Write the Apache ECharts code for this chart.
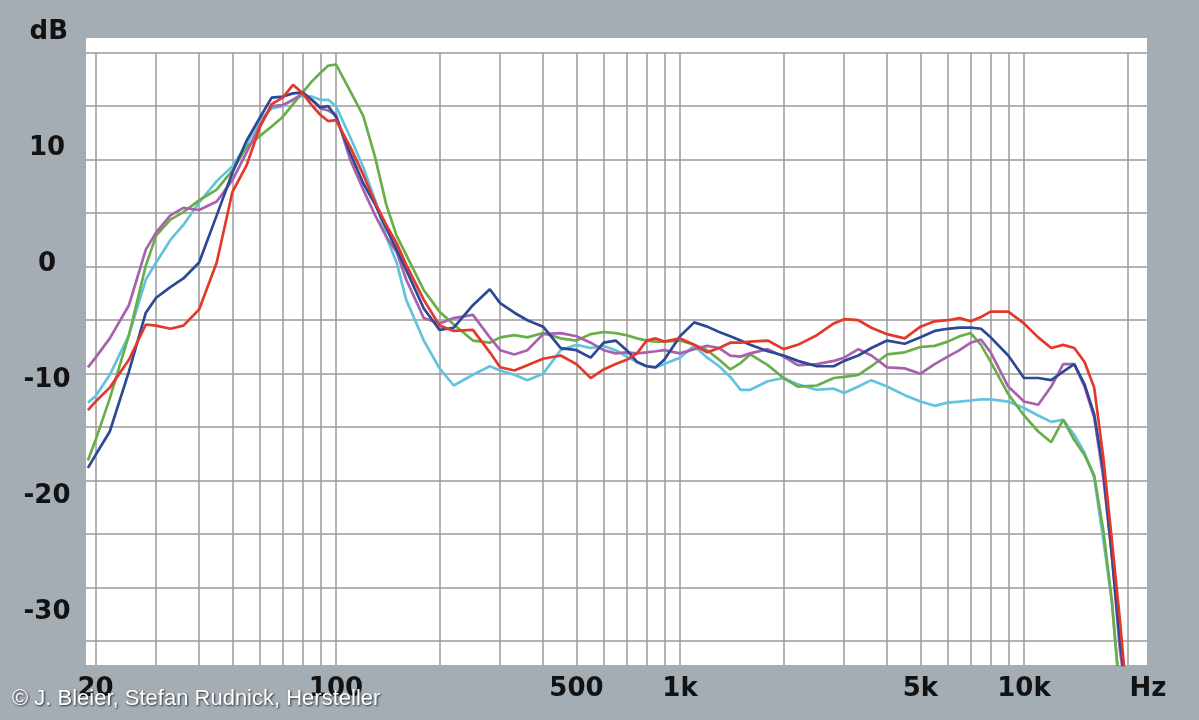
<!DOCTYPE html>
<html>
<head>
<meta charset="utf-8">
<script src="https://cdn.jsdelivr.net/npm/echarts@6/dist/echarts.min.js"></script>
<style>
  html, body { margin: 0; padding: 0; background: #a4acb4; }
  #chart { width: 1199px; height: 720px; }
</style>
</head>
<body>
<div id="chart"></div>
<script>
// Frequencies (Hz) at which the curves were read
const FREQ = [19,20,22,25,28,30,33,36,40,45,50,55,60,65,70,75,80,85,90,95,100,110,120,130,140,150,160,180,200,220,250,280,300,330,360,400,450,500,550,600,650,700,750,800,850,900,1000,1100,1200,1300,1400,1500,1600,1800,2000,2200,2500,2800,3000,3300,3600,4000,4500,5000,5500,6000,6500,7000,7500,8000,9000,10000,11000,12000,13000,14000,15000,16000,17000,18000,19000,20000];

// Levels (dB) per curve
const RED = [-13.4,-12.6,-11.3,-8.7,-5.4,-5.5,-5.8,-5.5,-4.0,0.4,7.0,9.5,13.0,15.2,15.8,17.0,16.2,15.1,14.2,13.6,13.7,11.2,8.6,6.0,3.9,2.2,0.2,-3.1,-5.5,-6.0,-5.9,-8.0,-9.4,-9.7,-9.2,-8.6,-8.3,-9.1,-10.4,-9.6,-9.1,-8.7,-8.1,-6.9,-6.7,-7.0,-6.7,-7.3,-8.0,-7.6,-7.1,-7.1,-7.0,-6.9,-7.7,-7.3,-6.4,-5.3,-4.9,-5.0,-5.7,-6.3,-6.7,-5.6,-5.1,-5.0,-4.8,-5.1,-4.7,-4.2,-4.2,-5.3,-6.6,-7.6,-7.3,-7.6,-8.9,-11.3,-17.8,-25.5,-33.0,-41];
const GREEN = [-18.1,-16.2,-12.3,-6.4,0.1,2.9,4.4,5.1,6.2,7.2,9.0,11.2,12.2,13.1,14.0,15.2,16.3,17.3,18.1,18.8,18.9,16.4,14.1,10.2,5.8,2.9,1.1,-2.2,-4.2,-5.4,-6.9,-7.1,-6.6,-6.4,-6.6,-6.2,-6.7,-6.9,-6.3,-6.1,-6.2,-6.4,-6.7,-6.9,-7.0,-7.0,-6.9,-7.3,-7.8,-8.7,-9.6,-9.0,-8.2,-9.2,-10.4,-11.2,-11.1,-10.4,-10.3,-10.1,-9.3,-8.2,-8.0,-7.5,-7.4,-7.0,-6.5,-6.2,-7.3,-8.9,-11.9,-13.9,-15.4,-16.4,-14.3,-16.2,-17.6,-19.5,-24.6,-31.2,-40,-45];
const BLUE = [-18.8,-17.6,-15.4,-9.8,-4.3,-2.9,-1.9,-1.1,0.4,4.8,8.8,11.8,13.9,15.8,15.9,16.2,16.3,15.6,14.9,15.0,14.0,10.6,7.8,5.8,3.6,1.6,-0.3,-3.9,-5.9,-5.7,-3.6,-2.1,-3.4,-4.3,-5.0,-5.6,-7.6,-7.8,-8.5,-7.1,-6.9,-7.8,-8.9,-9.3,-9.4,-8.7,-6.5,-5.2,-5.6,-6.1,-6.5,-6.9,-7.3,-7.9,-8.3,-8.8,-9.3,-9.3,-8.8,-8.3,-7.6,-6.9,-7.2,-6.6,-6.0,-5.8,-5.7,-5.7,-5.8,-6.6,-8.3,-10.4,-10.4,-10.6,-9.8,-9.1,-11.0,-13.8,-19.0,-26.9,-34.9,-41];
const CYAN = [-12.7,-12.1,-10.1,-6.4,-1.2,0.4,2.5,3.9,6.0,8.0,9.4,11.4,13.7,14.8,15.0,15.6,16.0,15.9,15.6,15.6,15.0,12.1,9.3,6.2,2.8,0.4,-3.1,-6.9,-9.5,-11.1,-10.1,-9.3,-9.7,-10.1,-10.6,-10.0,-7.8,-7.3,-7.6,-7.4,-7.8,-8.4,-8.9,-9.3,-9.4,-9.1,-8.5,-7.4,-8.5,-9.3,-10.3,-11.5,-11.5,-10.7,-10.4,-11.0,-11.5,-11.4,-11.8,-11.2,-10.6,-11.2,-12.0,-12.6,-13.0,-12.7,-12.6,-12.5,-12.4,-12.4,-12.6,-13.2,-13.9,-14.5,-14.3,-15.7,-17.4,-19.7,-25.5,-31.2,-40,-45];
const PURPLE = [-9.4,-8.5,-6.7,-3.6,1.6,3.2,4.8,5.5,5.3,6.1,8.1,10.7,13.2,15.0,15.1,15.6,16.2,15.6,14.8,14.6,14.2,10.0,7.2,4.8,2.8,1.4,-1.2,-4.8,-5.3,-4.8,-4.5,-6.6,-7.8,-8.2,-7.8,-6.3,-6.2,-6.5,-7.1,-7.8,-8.1,-8.0,-8.1,-8.0,-7.9,-7.8,-8.1,-7.7,-7.4,-7.6,-8.3,-8.4,-8.1,-7.7,-8.4,-9.2,-9.1,-8.8,-8.5,-7.7,-8.3,-9.4,-9.5,-10.0,-9.1,-8.4,-7.8,-7.1,-6.8,-8.0,-11.2,-12.6,-12.9,-11.2,-9.1,-9.1,-11.2,-14.1,-19.7,-26.9,-35.8,-41];

// Axis tick / label values
const X_GRID = [20,30,40,50,60,70,80,90,100,200,300,400,500,600,700,800,900,1000,2000,3000,4000,5000,6000,7000,8000,9000,10000,20000];
const X_LABELS = [20,100,500,1000,5000,10000];
const Y_GRID = [-35,-30,-25,-20,-15,-10,-5,0,5,10,15,20];
const Y_LABELS = [10,0,-10,-20,-30];

const SERIES = [
  { name: 'cyan',   values: CYAN,   color: '#62c3df' },
  { name: 'green',  values: GREEN,  color: '#6aae4a' },
  { name: 'purple', values: PURPLE, color: '#a862ad' },
  { name: 'blue',   values: BLUE,   color: '#2d4894' },
  { name: 'red',    values: RED,    color: '#e2392b' }
];

const chart = echarts.init(document.getElementById('chart'), null, { renderer: 'canvas' });
const labelFont = { fontFamily: '"DejaVu Sans", sans-serif', fontWeight: 'bold', fontSize: 26, color: '#121212' };
const gridColor = '#9a9a9a';

chart.setOption({
  animation: false,
  backgroundColor: '#a4acb4',
  grid: { left: 86, right: 52, top: 52.7, bottom: 55, show: true, backgroundColor: '#ffffff', borderWidth: 0 },
  graphic: [
    { type: 'rect', shape: { x: 86, y: 38, width: 1061, height: 15 }, style: { fill: '#ffffff' }, z: -1 },
    { type: 'text', left: 12, top: 688, z: 100,
      style: { text: '\u00a9 J. Bleier, Stefan Rudnick, Hersteller', fill: '#ffffff',
               font: '22px "Liberation Sans", Arial, sans-serif',
               textShadowColor: 'rgba(30,30,30,0.9)', textShadowBlur: 2, textShadowOffsetX: 1, textShadowOffsetY: 1 } }
  ],
  xAxis: {
    type: 'log', logBase: 10, min: 18.76, max: 22782,
    name: 'Hz', nameLocation: 'end', nameGap: 1,
    nameTextStyle: Object.assign({}, labelFont, { align: 'center', verticalAlign: 'top', padding: [11, 0, 0, 0] }),
    axisLine: { show: false, onZero: false },
    axisTick: { show: false, customValues: X_GRID },
    splitLine: { show: true, lineStyle: { color: gridColor, width: 1.5 } },
    minorSplitLine: { show: false },
    axisLabel: Object.assign({}, labelFont, {
      customValues: X_LABELS, margin: 11,
      formatter: v => v >= 1000 ? (v / 1000) + 'k' : String(v)
    })
  },
  yAxis: [
    {
      type: 'value', position: 'left', min: -34.52, max: 18.27,
      name: 'dB', nameLocation: 'end', nameGap: 7,
      nameTextStyle: Object.assign({}, labelFont, { align: 'right', padding: [0, 18, 0, 0] }),
      axisLine: { show: false, onZero: false }, axisTick: { show: false }, splitLine: { show: false },
      axisLabel: Object.assign({}, labelFont, { customValues: Y_LABELS, align: 'center', margin: 39 })
    },
    {
      type: 'value', position: 'right', min: -37.22, max: 20,
      axisLine: { show: false, onZero: false },
      axisTick: { show: false, customValues: Y_GRID },
      axisLabel: { show: false },
      splitLine: { show: true, lineStyle: { color: gridColor, width: 1.5 } }
    }
  ],
  series: SERIES.map(s => ({
    type: 'line', name: s.name, yAxisIndex: 1,
    showSymbol: false, symbol: 'none', smooth: false, clip: true,
    lineStyle: { color: s.color, width: 2.7 },
    data: FREQ.map((f, i) => [f, s.values[i]])
  }))
});
</script>
</body>
</html>
